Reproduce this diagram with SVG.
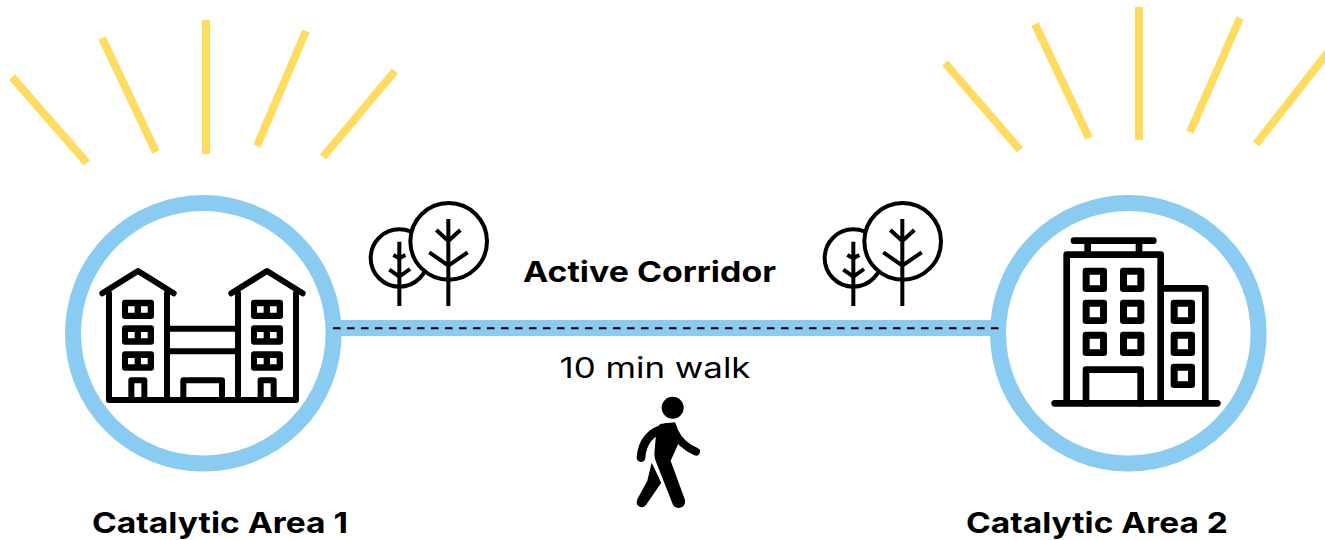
<svg xmlns="http://www.w3.org/2000/svg" width="1325" height="540" viewBox="0 0 1325 540">
<style>
.ray{stroke:#FFDC5F;stroke-width:8;fill:none}
.ring{fill:#fff;stroke:#89CBF1;stroke-width:16}
.ln{fill:none;stroke:#000;stroke-linecap:round;stroke-linejoin:round}
.lb{font-family:"Inter","Open Sans",sans-serif;fill:#000}
.b{font-weight:700;font-size:29px}
.r{font-weight:400;font-size:29px}
.hole{fill:#fff}
</style>
<defs>
<g id="tree">
<g class="ln" stroke-width="12" style="stroke-linecap:butt">
<circle cx="118" cy="189" r="86" style="fill:#fff"/>
<path d="M118 140V333M100 180L118 190L136 180M88 224L118 245L150 222"/>
<circle cx="266" cy="139" r="115" style="fill:#fff"/>
<path d="M265 72V333M229 105L265 138L301 105M208 172L265 212L323 172"/>
</g>
</g>
</defs>
<g id="rays-left" class="rays">
<path class="ray" d="M12 77L87 163M102 38L156 152M206 20V154M306 31L257 146M395 71L323 157"/>
</g>
<g id="rays-right" class="rays">
<path class="ray" d="M945 63L1020 150M1035 24L1089 138M1139 7V140M1240 18L1190 132M1329 51L1256 144"/>
</g>
<g id="catalytic-area-1">
<circle class="ring" cx="203.300" cy="333.300" r="130.300"/>
<g transform="translate(60 190) scale(.33333)">
<g class="ln" stroke-width="18">
<path d="M127 310L234 243L341 310M514 310L621 243L728 310"/>
<path d="M147 310V630H708V310M321 310V630M534 310V630M321 416H534M321 484H534"/>
<path d="M214 630V571H253V630M602 630V571H641V630M370 630V571H486V630"/>
</g>
<g id="win-left">
<rect x="186" y="329" width="96" height="58" rx="9"/><rect x="186" y="406" width="96" height="58" rx="9"/><rect x="186" y="484" width="96" height="58" rx="9"/>
<rect x="573" y="329" width="96" height="58" rx="9"/><rect x="573" y="406" width="96" height="58" rx="9"/><rect x="573" y="484" width="96" height="58" rx="9"/>
<path class="hole" d="M204 349h20v19h-20zM243 349h20v19h-20zM204 426h20v19h-20zM243 426h20v19h-20zM204 504h20v19h-20zM243 504h20v19h-20zM591 349h20v19h-20zM630 349h20v19h-20zM591 426h20v19h-20zM630 426h20v19h-20zM591 504h20v19h-20zM630 504h20v19h-20z"/>
</g>
</g>
<text class="lb b" x="220" y="533" text-anchor="middle" textLength="256" lengthAdjust="spacingAndGlyphs">Catalytic Area 1</text>
</g>
<g id="catalytic-area-2">
<circle class="ring" cx="1128.300" cy="333.300" r="130.300"/>
<g transform="translate(985 190) scale(.33333)">
<g class="ln" stroke-width="20">
<path d="M267 152H505M308 152V194M462 152V194"/>
<path d="M245 640V194H527V640M527 295H661V640M209 640H697"/>
<path d="M303 640V539H467V640"/>
</g>
<g>
<rect x="293" y="233" width="73" height="73" rx="10"/><rect x="405" y="233" width="73" height="73" rx="10"/>
<rect x="293" y="329" width="73" height="73" rx="10"/><rect x="405" y="329" width="73" height="73" rx="10"/>
<rect x="293" y="425" width="73" height="73" rx="10"/><rect x="405" y="425" width="73" height="73" rx="10"/>
<rect x="557" y="329" width="73" height="73" rx="10"/><rect x="557" y="425" width="73" height="73" rx="10"/><rect x="557" y="521" width="73" height="73" rx="10"/>
<path class="hole" d="M314 254h31v32h-31zM426 254h31v32h-31zM314 350h31v32h-31zM426 350h31v32h-31zM314 446h31v32h-31zM426 446h31v32h-31zM578 350h31v32h-31zM578 446h31v32h-31zM578 542h31v32h-31z"/>
</g>
</g>
<text class="lb b" x="1097" y="533" text-anchor="middle" textLength="262" lengthAdjust="spacingAndGlyphs">Catalytic Area 2</text>
</g>
<g id="connectors">
<path d="M338 328H994" stroke="#89CBF1" stroke-width="16" fill="none"/>
<path d="M333 328.300H999" stroke="#000" stroke-width="2" stroke-dasharray="7.500 6.500" fill="none"/>
</g>
<g id="trees-left"><use href="#tree" transform="translate(360 195) scale(.33333)"/></g>
<g id="trees-right"><use href="#tree" transform="translate(814 195) scale(.33333)"/></g>
<g id="label-corridor"><text class="lb b" x="649.500" y="282" text-anchor="middle" textLength="253" lengthAdjust="spacingAndGlyphs">Active Corridor</text></g>
<g id="label-walk"><text class="lb r" x="655" y="378" text-anchor="middle" textLength="191" lengthAdjust="spacingAndGlyphs">10 min walk</text></g>
<g id="walker" transform="translate(620 390) scale(.33333)">
<circle cx="158" cy="53" r="33"/>
<path d="M95 218L124 278L78 345Q65 358 52 345Q47 335 55 322L82 272Z"/>
<path d="M100 196L155 342" style="stroke:#fff;fill:none" stroke-width="14"/>
<path d="M120 102L165 97Q172 110 176 130L180 150L152 212L195 330Q198 352 175 354Q162 354 157 340L108 215Q103 205 103 190L108 135Z"/>
<path class="ln" stroke-width="26" d="M140 112Q68 130 63 203"/>
<path class="ln" stroke-width="24" d="M165 128Q182 165 228 185"/>
</g>
</svg>
